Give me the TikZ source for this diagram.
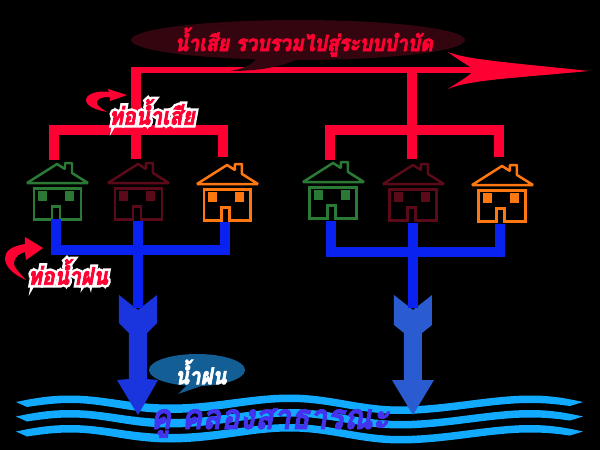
\documentclass[tikz,border=0pt]{standalone}
\usepackage{fontspec}
\newfontfamily\thaifont[Script=Thai,FakeSlant=0.18,FakeStretch=0.88]{Loma}
\definecolor{wastered}{HTML}{FF0033}
\definecolor{bubbledark}{HTML}{33060F}
\definecolor{rainblue}{HTML}{135F95}
\definecolor{pipeblue}{HTML}{0A22F0}
\definecolor{arrowblueL}{HTML}{1A35DD}
\definecolor{arrowblueR}{HTML}{2A5BD0}
\definecolor{waterblue}{HTML}{11AAFF}
\definecolor{canalblue}{HTML}{4433EE}
\definecolor{housegreen}{HTML}{2A7A35}
\definecolor{housered}{HTML}{5A0A18}
\definecolor{houseorange}{HTML}{FF7711}
\newcommand{\thicktext}[1]{\special{pdf:code q 0.45 w 2 Tr}#1\special{pdf:code Q}}
\newcommand{\halotext}[1]{\leavevmode\rlap{\special{pdf:code q 1 1 1 RG 1 1 1 rg 3.2 w 2 Tr}#1\special{pdf:code Q}}\thicktext{#1}}
\tikzset{
  wastepipe/.style={draw=wastered,line width=0.2cm},
  rainpipe/.style={draw=pipeblue,line width=0.2cm},
  thailabel/.style={font=\thaifont\bfseries,inner sep=0pt},
}
\begin{document}
\begin{tikzpicture}[x=0.02cm,y=-0.02cm]
        \useasboundingbox (0,0) rectangle (600,450);
        \fill[black] (0,0) rectangle (600,450);
        % waves
        \foreach \dy in {0,14.5,29.5}
            \fill[waterblue,shift={(0,\dy)}] (16,402) .. controls (35,398) and (50,395.5) .. (70,395.5)
                .. controls (105,395.5) and (130,404.5) .. (170,404.5)
                .. controls (215,404.5) and (250,394.5) .. (290,394.5)
                .. controls (330,394.5) and (360,406.5) .. (400,406.5)
                .. controls (445,406.5) and (490,395.5) .. (530,395.5)
                .. controls (550,395.5) and (565,398) .. (583,402)
                -- (570,406) .. controls (555,404) and (545,403) .. (530,403)
                .. controls (490,403) and (445,414) .. (400,414)
                .. controls (360,414) and (330,402) .. (290,402)
                .. controls (250,402) and (215,413) .. (170,413)
                .. controls (130,413) and (105,403) .. (70,403)
                .. controls (55,403) and (40,405) .. (27,407) -- cycle;
        % houses
        \foreach \hname/\hx/\hy/\hcol in {houseA/57/164/housegreen,houseB/138/164/housered,houseC/227/165/houseorange,houseD/333/163/housegreen,houseE/413/165/housered,houseF/502/166/houseorange}{
            \begin{scope}[shift={(\hx,\hy)}]
                \coordinate (\hname) at (0,0);
                \draw[\hcol,line width=0.05cm,line join=bevel] (-30,19) -- (0,0) -- (8,5) -- (8,-1) -- (15,-1) -- (15,9) -- (31,19) -- cycle;
                \draw[\hcol,line width=0.06cm] (-23,24) -- (24,24) -- (24,55) -- (3,55) -- (3,42) -- (-5,42) -- (-5,55) -- (-23,55) -- cycle;
                \fill[\hcol] (-19,27) rectangle (-10,37);
                \fill[\hcol] (8,27) rectangle (17,37);
            \end{scope}
        }
        % waste water pipes
        \coordinate (mainL) at (136,70);
        \coordinate (mainR) at (412,70);
        \coordinate (mainEnd) at (480,70);
        \coordinate (forkLa) at (54,130);
        \coordinate (forkLb) at (136,130);
        \coordinate (forkLc) at (223,130);
        \coordinate (forkRa) at (330,130);
        \coordinate (forkRc) at (499,130);
        \coordinate (dropA) at (54,160);
        \coordinate (dropB) at (136,159);
        \coordinate (dropC) at (223,157);
        \coordinate (dropD) at (330,160);
        \coordinate (dropE) at (412,159);
        \coordinate (dropF) at (499,157);
        \draw[wastepipe,line width=0.12cm] (131,70) -- (mainEnd);
        \draw[wastepipe] (mainL) -- (dropB);
        \draw[wastepipe] (mainR) -- (dropE);
        \draw[wastepipe] (dropA) -- (forkLa) -- (forkLc) -- (dropC);
        \draw[wastepipe] (dropD) -- (forkRa) -- (forkRc) -- (dropF);
        \fill[wastered] (448,52) .. controls (468,60) and (515,63) .. (589,71)
            .. controls (515,78) and (468,80) .. (448,89)
            .. controls (458,82) and (470,76) .. (474,70)
            .. controls (470,66) and (458,60) .. (448,52) -- cycle;
        % rain water pipes
        \coordinate (rainA) at (56,219);
        \coordinate (rainB) at (138,221);
        \coordinate (rainC) at (225,222);
        \coordinate (rainD) at (331,221);
        \coordinate (rainE) at (413,223);
        \coordinate (rainF) at (500,224);
        \coordinate (outL) at (138,308);
        \coordinate (outR) at (413,308);
        \coordinate (joinA) at (56,250);
        \coordinate (joinC) at (225,250);
        \coordinate (joinD) at (331,252);
        \coordinate (joinF) at (500,252);
        % blue arrows
        \fill[arrowblueL] (119,295) -- (138,310) -- (157,295) -- (157,323) -- (147,333) -- (147,379) -- (158,380) -- (138,415)
            -- (117,380) -- (129,379) -- (129,333) -- (119,323) -- cycle;
        \fill[arrowblueR] (394,295) -- (413,310) -- (432,295) -- (432,325) -- (422,333) -- (422,380) -- (434,380) -- (413,415)
            -- (392,380) -- (404,380) -- (404,333) -- (394,325) -- cycle;
        \draw[rainpipe] (rainA) -- (joinA) -- (joinC) -- (rainC);
        \draw[rainpipe] (rainB) -- (outL);
        \draw[rainpipe] (rainD) -- (joinD) -- (joinF) -- (rainF);
        \draw[rainpipe] (rainE) -- (outR);
        % bubbles
        \fill[bubbledark] (298,40) ellipse (167 and 20);
        \fill[bubbledark] (258,56) .. controls (256,62) and (245,69) .. (230,71) .. controls (255,71) and (280,68) .. (300,58) -- cycle;
        \fill[rainblue] (197,370) ellipse (48 and 16);
        \fill[rainblue] (188,384) -- (178,394) -- (207,384) -- cycle;
        % curved arrows
        \fill[wastered] (109,92) .. controls (98,90) and (86,94) .. (86,100) .. controls (86,106) and (96,110) .. (107,112)
            .. controls (100,108) and (95,104) .. (97,101) .. controls (99,98) and (103,97) .. (110,97)
            -- (110,101) -- (127,95) -- (108,89) -- cycle;
        \fill[wastered] (25,244) .. controls (12,246) and (5,251) .. (5,258) .. controls (5,268) and (15,275) .. (26,280)
            .. controls (19,272) and (13,267) .. (14,262) .. controls (15,257) and (20,253) .. (25,252)
            -- (26,260) -- (43,248) -- (25,237) -- cycle;
        % labels
        \node[thailabel,text=wastered,font=\thaifont\bfseries\fontsize{12.6}{15}\selectfont] (topLabel) at (304,42) {\thicktext{น้ำเสีย รวบรวมไปสู่ระบบบำบัด}};
        \node[thailabel,text=wastered,font=\thaifont\bfseries\fontsize{13.7}{16}\selectfont] (wasteLabel) at (152,112) {\halotext{ท่อน้ำเสีย}};
        \node[thailabel,text=wastered,font=\thaifont\bfseries\fontsize{13.7}{15}\selectfont] (rainLabel) at (68,272) {\halotext{ท่อน้ำฝน}};
        \node[thailabel,text=white,font=\thaifont\bfseries\fontsize{13.2}{15}\selectfont] (rainName) at (201,372) {\thicktext{น้ำฝน}};
        \node[thailabel,text=canalblue,font=\thaifont\bfseries\fontsize{20}{22}\selectfont] (canalLabel) at (270,423) {\thicktext{คู คลองสาธารณะ}};
\end{tikzpicture}
\end{document}
